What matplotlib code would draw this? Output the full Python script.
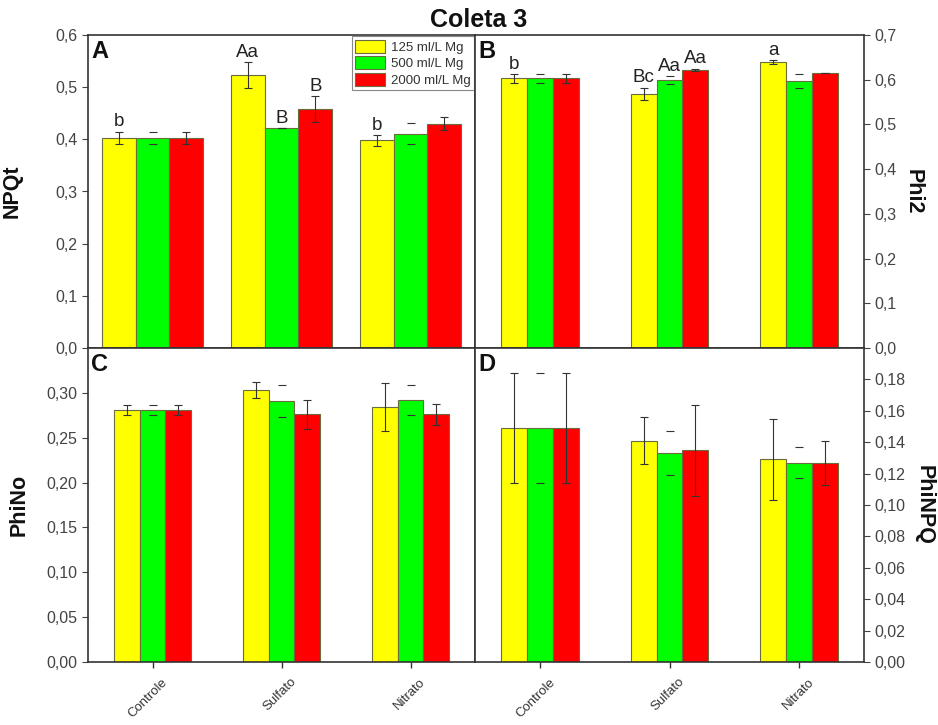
import matplotlib
matplotlib.use("Agg")
import matplotlib.pyplot as plt
from matplotlib.patches import Patch
from matplotlib.ticker import FuncFormatter, MultipleLocator
from matplotlib.transforms import ScaledTranslation
import numpy as np

plt.rcParams['font.family'] = ['Liberation Sans', 'DejaVu Sans']

categories = ['Controle', 'Sulfato', 'Nitrato']
doses = ['125 ml/L Mg', '500 ml/L Mg', '2000 ml/L Mg']
colors = ['#FFFF00', '#00FF00', '#FF0000']

# NPQt (panel A)
npqt_mean = [[0.403, 0.523, 0.398],
             [0.403, 0.421, 0.411],
             [0.403, 0.458, 0.430]]
npqt_err = [[0.012, 0.025, 0.010],
            [0.012, 0.000, 0.020],
            [0.012, 0.025, 0.012]]
npqt_letters = [['b', 'Aa', 'b'], ['', 'B', ''], ['', 'B', '']]

# Phi2 (panel B)
phi2_mean = [[0.603, 0.568, 0.640],
             [0.603, 0.599, 0.597],
             [0.603, 0.622, 0.616]]
phi2_err = [[0.010, 0.014, 0.004],
            [0.010, 0.009, 0.016],
            [0.010, 0.003, 0.000]]
phi2_letters = [['b', 'Bc', 'a'], ['', 'Aa', ''], ['', 'Aa', '']]

# PhiNo (panel C)
phino_mean = [[0.281, 0.303, 0.284],
              [0.281, 0.291, 0.292],
              [0.281, 0.276, 0.276]]
phino_err = [[0.006, 0.009, 0.027],
             [0.006, 0.018, 0.017],
             [0.006, 0.016, 0.012]]

# PhiNPQ (panel D)
phinpq_mean = [[0.149, 0.141, 0.129],
               [0.149, 0.133, 0.127],
               [0.149, 0.135, 0.127]]
phinpq_err = [[0.035, 0.015, 0.026],
              [0.035, 0.014, 0.010],
              [0.035, 0.029, 0.014]]

W, H = 938, 725
fig = plt.figure(figsize=(W / 100, H / 100), dpi=100)


def box(l, r, t, b):
    return [l / W, 1 - b / H, (r - l) / W, (b - t) / H]


axA = fig.add_axes(box(88, 475, 35, 348))
axB = fig.add_axes(box(475, 864, 35, 348))
axC = fig.add_axes(box(88, 475, 348, 662))
axD = fig.add_axes(box(475, 864, 348, 662))

x = np.arange(1, len(categories) + 1)
spine_col = '#333333'
tick_col = '#444444'


def comma_fmt(decimals):
    return FuncFormatter(lambda v, p: f"{v:.{decimals}f}".replace('.', ','))


def draw(ax, means, errs, width, letters=None):
    for i in range(3):
        xi = x + (i - 1) * width
        ax.bar(xi, means[i], width=width, color=colors[i],
               edgecolor='#6b6b40', linewidth=0.8, zorder=2)
        elw = 0 if i == 1 else 0.8
        ax.errorbar(xi, means[i], yerr=errs[i], fmt='none', ecolor='#333333',
                    elinewidth=elw, capsize=3.2, capthick=0.8, zorder=3)
        if letters is not None:
            for j in range(3):
                if letters[i][j]:
                    ax.annotate(letters[i][j], (xi[j], means[i][j] + errs[i][j]),
                                xytext=(0, 1), textcoords='offset points',
                                ha='center', va='bottom', fontsize=13.5,
                                color='#222222', zorder=4)
    ax.set_xlim(0.5, 3.5)
    for s in ax.spines.values():
        s.set_color(spine_col)
        s.set_linewidth(1.2)
    ax.tick_params(axis='y', direction='out', length=4, width=0.8,
                   colors=tick_col, labelsize=11.5)


draw(axA, npqt_mean, npqt_err, 0.263, npqt_letters)
draw(axB, phi2_mean, phi2_err, 0.2, phi2_letters)
draw(axC, phino_mean, phino_err, 0.2)
draw(axD, phinpq_mean, phinpq_err, 0.2)

axA.set_ylim(0, 0.6)
axA.yaxis.set_major_locator(MultipleLocator(0.1))
axA.yaxis.set_major_formatter(comma_fmt(1))
axB.set_ylim(0, 0.7)
axB.yaxis.set_major_locator(MultipleLocator(0.1))
axB.yaxis.set_major_formatter(comma_fmt(1))
axC.set_ylim(0, 0.35)
axC.set_yticks(np.arange(0, 0.301, 0.05))
axC.yaxis.set_major_formatter(comma_fmt(2))
axD.set_ylim(0, 0.20)
axD.set_yticks(np.arange(0, 0.181, 0.02))
axD.yaxis.set_major_formatter(comma_fmt(2))

for ax in (axB, axD):
    ax.yaxis.tick_right()
    ax.yaxis.set_label_position('right')

for ax in (axA, axB):
    ax.set_xticks([])

shift = ScaledTranslation(9 / 100, 0, fig.dpi_scale_trans)
for ax in (axC, axD):
    ax.set_xticks(x)
    ax.set_xticklabels(categories, rotation=45, ha='right',
                       rotation_mode='anchor', fontsize=9.5, color='#333333')
    ax.tick_params(axis='x', direction='out', length=4, width=1.0,
                   colors=spine_col, labelcolor='#333333', pad=6)
    for lbl in ax.get_xticklabels():
        lbl.set_transform(lbl.get_transform() + shift)

lab_kw = dict(fontsize=15.5, fontweight='bold', color='#111111')
axA.set_ylabel('NPQt', **lab_kw)
axA.yaxis.set_label_coords(-0.17, 0.5)
axB.set_ylabel('Phi2', rotation=270, va='center', **lab_kw)
axB.yaxis.set_label_coords(1.125, 0.5)
axC.set_ylabel('PhiNo', **lab_kw)
axC.yaxis.set_label_coords(-0.152, 0.5)
axD.set_ylabel('PhiNPQ', rotation=270, va='center', **lab_kw)
axD.yaxis.set_label_coords(1.155, 0.5)

for ax, letter in zip((axA, axB, axC, axD), 'ABCD'):
    ax.text(0.008, 0.985, letter, transform=ax.transAxes, ha='left', va='top',
            fontsize=17, fontweight='bold', color='#111111')

handles = [Patch(facecolor=c, edgecolor='#6b6b40', linewidth=0.8) for c in colors]
leg = axA.legend(handles, doses, loc='upper right', bbox_to_anchor=(1.0, 1.0),
                 fontsize=9.5, handlelength=2.3, handleheight=1.15,
                 labelspacing=0.2, borderpad=0.25, handletextpad=0.4,
                 borderaxespad=0.1, fancybox=False, framealpha=1)
leg.get_frame().set_edgecolor('#888888')
leg.get_frame().set_linewidth(0.8)
for t in leg.get_texts():
    t.set_color('#333333')

fig.text(479 / W, 1 - 20 / H, 'Coleta 3', ha='center', va='center',
         fontsize=18, fontweight='bold', color='#111111')

fig.savefig('out.png', dpi=100, facecolor='white')
